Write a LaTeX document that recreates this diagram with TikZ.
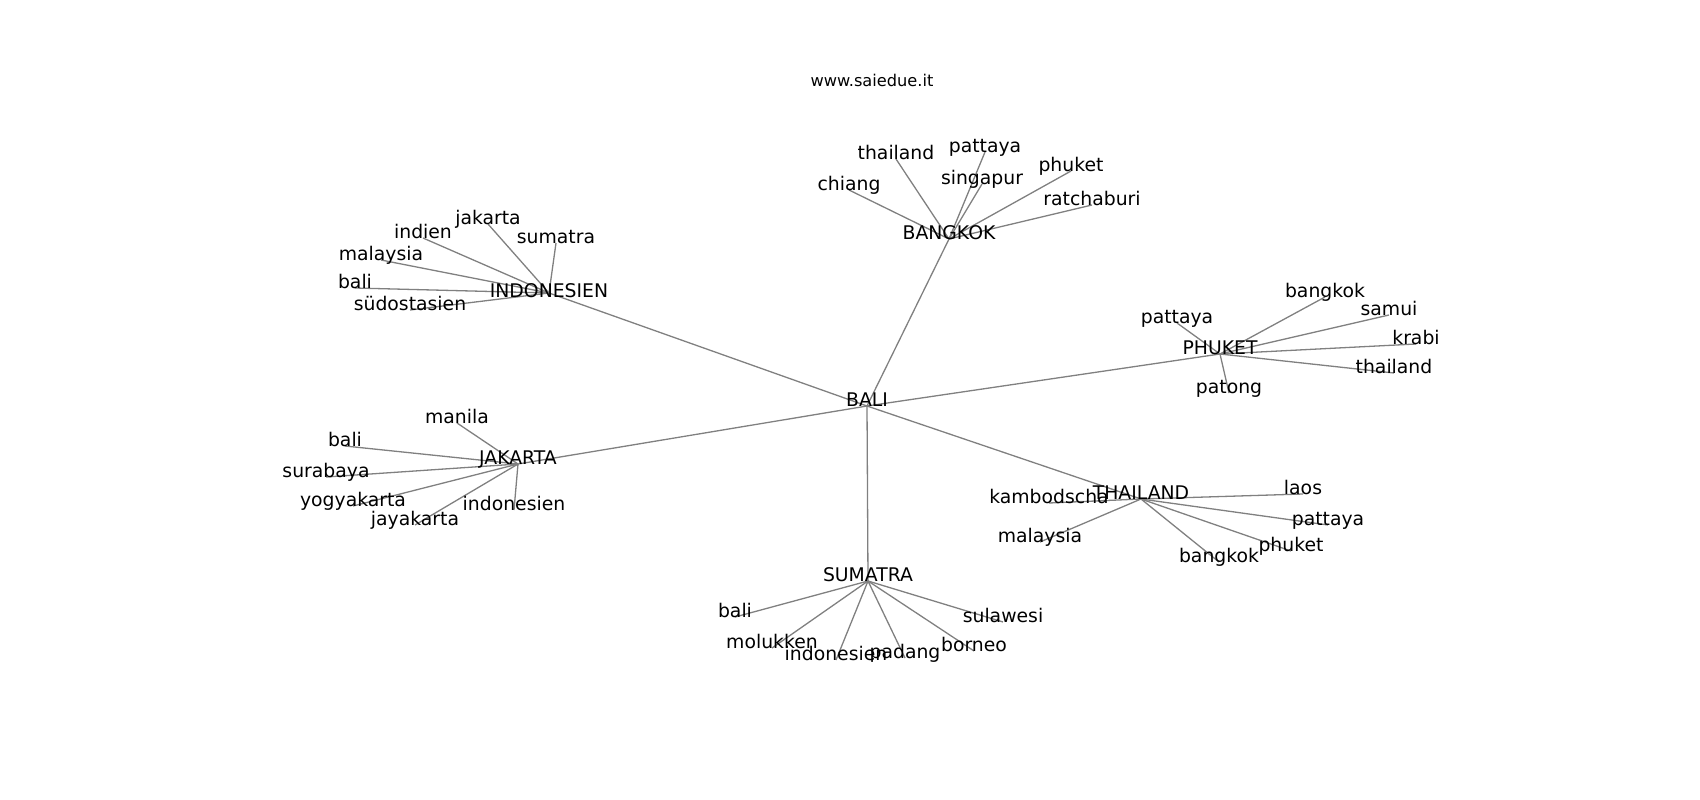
\documentclass[tikz,border=0pt]{standalone}
\usepackage{fontspec}
\setmainfont{DejaVu Sans}
\usepackage{tikz}
\usetikzlibrary{backgrounds}
\definecolor{edgegray}{RGB}{128,128,128}
\tikzset{
every node/.style={inner sep=0pt, text height=0.55em, text depth=0.45em, font=\fontsize{18.8}{22}\selectfont},
netline/.style={draw=edgegray, line width=1.3pt}
}

\begin{document}
\begin{tikzpicture}[x=1pt, y=-1pt]
\useasboundingbox (0,0) rectangle (1700,800);
\node [font=\fontsize{16.2}{19}\selectfont] (title) at (872,86) {www.saiedue.it};

\node (BALI) at (867,406) {BALI};
\node [text height=0.95em, text depth=0.05em] (INDONESIEN) at (549,293) {INDONESIEN};
\node (BANGKOK) at (949,239) {BANGKOK};
\node (PHUKET) at (1220,354) {PHUKET};
\node (JAKARTA) at (518,464) {JAKARTA};
\node (THAILAND) at (1141,499) {THAILAND};
\node (SUMATRA) at (868,581) {SUMATRA};

\node (in-jakarta) at (488,224) {jakarta};
\node (in-indien) at (423,238) {indien};
\node (in-sumatra) at (556,243) {sumatra};
\node (in-malaysia) at (381,260) {malaysia};
\node (in-bali) at (355,288) {bali};
\node (in-suedost) at (410,310) {südostasien};

\node (bk-thailand) at (896,159) {thailand};
\node (bk-pattaya) at (985,152) {pattaya};
\node (bk-singapur) at (982,184) {singapur};
\node (bk-chiang) at (849,190) {chiang};
\node (bk-phuket) at (1071,171) {phuket};
\node (bk-ratchaburi) at (1092,205) {ratchaburi};

\node (ph-bangkok) at (1325,297) {bangkok};
\node (ph-samui) at (1389,315) {samui};
\node (ph-krabi) at (1416,344) {krabi};
\node (ph-thailand) at (1394,373) {thailand};
\node (ph-pattaya) at (1177,323) {pattaya};
\node (ph-patong) at (1229,393) {patong};

\node (jk-manila) at (457,423) {manila};
\node (jk-bali) at (345,446) {bali};
\node (jk-surabaya) at (326,477) {surabaya};
\node (jk-yogyakarta) at (353,506) {yogyakarta};
\node (jk-jayakarta) at (415,525) {jayakarta};
\node (jk-indonesien) at (514,510) {indonesien};

\node (th-kambodscha) at (1049,503) {kambodscha};
\node (th-malaysia) at (1040,542) {malaysia};
\node (th-bangkok) at (1219,562) {bangkok};
\node (th-phuket) at (1291,551) {phuket};
\node (th-laos) at (1303,494) {laos};
\node (th-pattaya) at (1328,525) {pattaya};

\node (su-bali) at (735,617) {bali};
\node (su-molukken) at (772,648) {molukken};
\node (su-indonesien) at (836,660) {indonesien};
\node (su-padang) at (905,658) {padang};
\node (su-borneo) at (974,651) {borneo};
\node (su-sulawesi) at (1003,622) {sulawesi};

\begin{scope}[on background layer]
\foreach \hub in {INDONESIEN,BANGKOK,PHUKET,JAKARTA,THAILAND,SUMATRA}
  \draw[netline] (BALI.center) -- (\hub.center);
\foreach \leaf in {jakarta,indien,sumatra,malaysia,bali,suedost}
  \draw[netline] (INDONESIEN.center) -- (in-\leaf.center);
\foreach \leaf in {thailand,pattaya,singapur,chiang,phuket,ratchaburi}
  \draw[netline] (BANGKOK.center) -- (bk-\leaf.center);
\foreach \leaf in {bangkok,samui,krabi,thailand,pattaya,patong}
  \draw[netline] (PHUKET.center) -- (ph-\leaf.center);
\foreach \leaf in {manila,bali,surabaya,yogyakarta,jayakarta,indonesien}
  \draw[netline] (JAKARTA.center) -- (jk-\leaf.center);
\foreach \leaf in {kambodscha,malaysia,bangkok,phuket,laos,pattaya}
  \draw[netline] (THAILAND.center) -- (th-\leaf.center);
\foreach \leaf in {bali,molukken,indonesien,padang,borneo,sulawesi}
  \draw[netline] (SUMATRA.center) -- (su-\leaf.center);
\end{scope}
\end{tikzpicture}
\end{document}
